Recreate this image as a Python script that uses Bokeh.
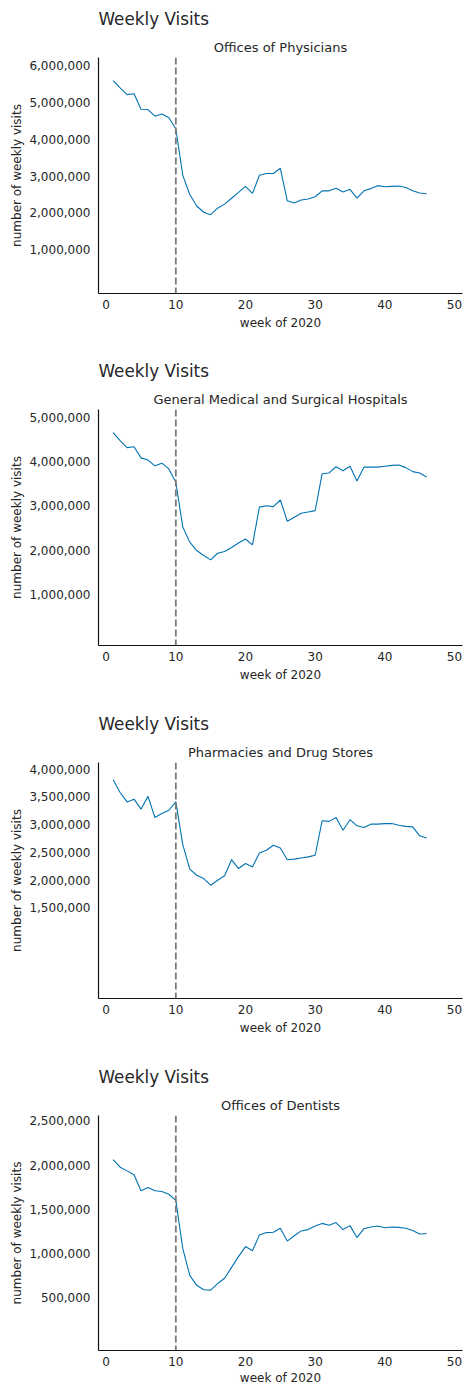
from bokeh.plotting import figure
from bokeh.models import Span, Title, NumeralTickFormatter, Range1d
from bokeh.layouts import column
from bokeh.embed import file_html
from bokeh.resources import INLINE

weeks = list(range(1, 47))

physicians = [5585000, 5385000, 5205000, 5230000, 4810000, 4800000, 4620000, 4680000, 4580000, 4280000,
              3020000, 2500000, 2190000, 2020000, 1955000, 2130000, 2240000, 2400000, 2560000, 2720000,
              2530000, 3020000, 3070000, 3070000, 3210000, 2330000, 2270000, 2350000, 2380000, 2440000,
              2600000, 2600000, 2670000, 2570000, 2640000, 2400000, 2600000, 2660000, 2740000, 2710000,
              2720000, 2730000, 2690000, 2600000, 2540000, 2520000]

hospitals = [4650000, 4470000, 4310000, 4330000, 4080000, 4030000, 3900000, 3960000, 3830000, 3530000,
             2520000, 2180000, 1990000, 1880000, 1780000, 1930000, 1970000, 2060000, 2160000, 2250000,
             2120000, 2970000, 3000000, 2980000, 3130000, 2650000, 2740000, 2830000, 2860000, 2890000,
             3720000, 3740000, 3880000, 3790000, 3890000, 3560000, 3870000, 3870000, 3870000, 3890000,
             3910000, 3920000, 3860000, 3770000, 3740000, 3650000]

pharmacies = [3810000, 3580000, 3410000, 3460000, 3280000, 3510000, 3130000, 3200000, 3260000, 3410000,
              2640000, 2200000, 2090000, 2030000, 1910000, 2000000, 2080000, 2370000, 2210000, 2300000,
              2240000, 2490000, 2540000, 2630000, 2580000, 2370000, 2380000, 2400000, 2420000, 2450000,
              3070000, 3060000, 3130000, 2900000, 3090000, 2980000, 2950000, 3010000, 3010000, 3020000,
              3020000, 2990000, 2970000, 2960000, 2800000, 2760000]

dentists = [2060000, 1976000, 1934000, 1890000, 1710000, 1746000, 1710000, 1700000, 1670000, 1600000,
            1055000, 753000, 640000, 590000, 586000, 660000, 720000, 843000, 964000, 1078000,
            1030000, 1210000, 1236000, 1240000, 1285000, 1140000, 1200000, 1255000, 1270000, 1310000,
            1340000, 1320000, 1350000, 1270000, 1315000, 1180000, 1280000, 1300000, 1310000, 1290000,
            1300000, 1295000, 1285000, 1260000, 1220000, 1225000]

subtitles = ["Offices of Physicians", "General Medical and Surgical Hospitals",
             "Pharmacies and Drug Stores", "Offices of Dentists"]
main_title = "Weekly Visits"
x_ticks = [0, 10, 20, 30, 40, 50]
y_ticks = [
    [1000000, 2000000, 3000000, 4000000, 5000000, 6000000],
    [1000000, 2000000, 3000000, 4000000, 5000000],
    [1500000, 2000000, 2500000, 3000000, 3500000, 4000000],
    [500000, 1000000, 1500000, 2000000, 2500000],
]
y_ranges = [(-180000, 6210000), (-150000, 5170000), (-130000, 4120000), (-97000, 2560000)]
event_week = 10

FONT = "DejaVu Sans"
TEXT = "#262626"
LINE = "#0173B2"


def make_panel(subtitle, values, yr, yt, height, bottom, xlabel_standoff):
    p = figure(width=464, height=height, output_backend="svg", toolbar_location=None,
               x_range=Range1d(-1.1, 51.15), y_range=Range1d(*yr),
               min_border_left=98, min_border_right=2, min_border_top=57,
               min_border_bottom=bottom, title=None)
    p.add_layout(Title(text=subtitle, align="center", text_font_size="13px", text_font=FONT,
                       text_font_style="normal", text_color=TEXT, standoff=6), "above")
    p.add_layout(Title(text=main_title, align="left", text_font_size="16.8px", text_font=FONT,
                       text_font_style="normal", text_color=TEXT, standoff=12), "above")
    p.line(weeks, values, line_color=LINE, line_width=1.1)
    p.add_layout(Span(location=event_week, dimension="height", line_color="#7a7a7a",
                      line_dash="7 3", line_width=1.8))
    p.xgrid.visible = False
    p.ygrid.visible = False
    p.outline_line_color = None
    for ax in (p.xaxis, p.yaxis):
        ax.major_tick_line_color = None
        ax.minor_tick_line_color = None
        ax.major_tick_out = 0
        ax.major_tick_in = 0
        ax.minor_tick_out = 0
        ax.axis_line_color = "#111111"
        ax.axis_line_width = 1.2
        ax.major_label_text_font = FONT
        ax.major_label_text_font_size = "12px"
        ax.major_label_text_color = TEXT
        ax.axis_label_text_font = FONT
        ax.axis_label_text_font_size = "12px"
        ax.axis_label_text_font_style = "normal"
        ax.axis_label_text_color = TEXT
    p.xaxis.ticker = x_ticks
    p.xaxis.axis_label = "week of 2020"
    p.xaxis.major_label_standoff = 6
    p.xaxis.axis_label_standoff = xlabel_standoff
    p.yaxis.ticker = yt
    p.yaxis.formatter = NumeralTickFormatter(format="0,0")
    p.yaxis.axis_label = "number of weekly visits"
    p.yaxis.major_label_standoff = 8
    p.yaxis.axis_label_standoff = 2
    return p


series = [physicians, hospitals, pharmacies, dentists]
heights = [352, 353, 353, 329]
bottoms = [59, 60, 60, 36]
label_standoffs = [4, 4, 4, 2]
panels = [make_panel(subtitles[i], series[i], y_ranges[i], y_ticks[i], heights[i], bottoms[i],
                     label_standoffs[i])
          for i in range(4)]

layout = column(*panels, spacing=0)
open("out.html", "w").write(file_html(layout, INLINE))
